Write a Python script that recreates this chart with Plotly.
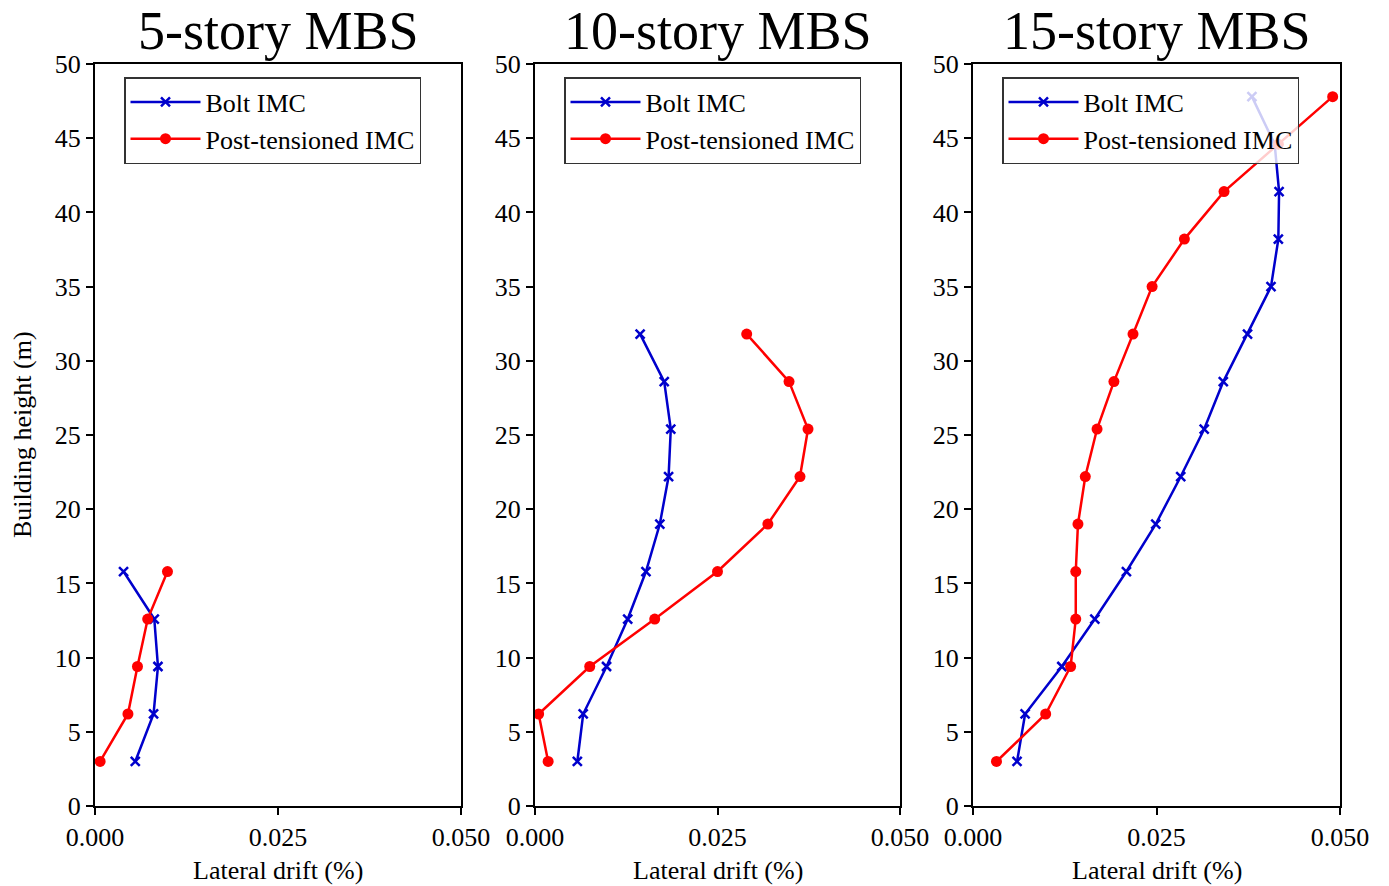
import plotly.graph_objects as go
from plotly.subplots import make_subplots

# Floor heights (m) of each story level
heights = [3.0, 6.2, 9.4, 12.6, 15.8, 19.0, 22.2, 25.4, 28.6, 31.8,
           35.0, 38.2, 41.4, 44.6, 47.8]

titles = ["5-story MBS", "10-story MBS", "15-story MBS"]

# Lateral drift (%) per story
bolt_5 = [0.0055, 0.0080, 0.0086, 0.0081, 0.0039]
pt_5 = [0.0007, 0.0045, 0.0058, 0.0072, 0.0099]

bolt_10 = [0.0058, 0.0066, 0.0098, 0.0127, 0.0152, 0.0171, 0.0183,
           0.0186, 0.0177, 0.0144]
pt_10 = [0.0018, 0.0005, 0.0075, 0.0164, 0.0250, 0.0319, 0.0363,
         0.0374, 0.0348, 0.0290]

bolt_15 = [0.0060, 0.0071, 0.0121, 0.0166, 0.0209, 0.0249, 0.0283,
           0.0315, 0.0341, 0.0374, 0.0406, 0.0416, 0.0417, 0.0411, 0.0380]
pt_15 = [0.0032, 0.0099, 0.0133, 0.0140, 0.0140, 0.0143, 0.0153,
         0.0169, 0.0192, 0.0218, 0.0244, 0.0288, 0.0342, 0.0416, 0.0490]

x_ticks = [0, 0.025, 0.05]
x_tick_text = ["0.000", "0.025", "0.050"]
y_ticks = list(range(0, 51, 5))

series = [(bolt_5, pt_5), (bolt_10, pt_10), (bolt_15, pt_15)]

BLUE = "#0000cc"
RED = "#ff0000"
FONT = "Liberation Serif"

x_domains = [(95 / 1389, 461 / 1389), (535 / 1389, 900 / 1389),
             (973 / 1389, 1340 / 1389)]
y_domain = (1 - 806 / 886, 1 - 64 / 886)

fig = make_subplots(rows=1, cols=3)

legend_names = ["legend", "legend2", "legend3"]
for i, (bolt, pt) in enumerate(series):
    n = len(bolt)
    fig.add_trace(go.Scatter(
        x=bolt, y=heights[:n], mode="lines+markers", name="Bolt IMC",
        line=dict(color=BLUE, width=2.5),
        marker=dict(symbol="x-thin", size=9, line=dict(color=BLUE, width=2.5)),
        legend=legend_names[i], legendgroup=f"b{i}", cliponaxis=False,
    ), row=1, col=i + 1)
    fig.add_trace(go.Scatter(
        x=pt, y=heights[:n], mode="lines+markers", name="Post-tensioned IMC",
        line=dict(color=RED, width=2.5),
        marker=dict(symbol="circle", size=11, color=RED),
        legend=legend_names[i], legendgroup=f"p{i}", cliponaxis=False,
    ), row=1, col=i + 1)

axis_common = dict(
    showgrid=False, zeroline=False, showline=True, linecolor="black",
    linewidth=2, mirror=True, ticks="outside", ticklen=7, tickwidth=1.5,
    tickcolor="black", tickfont=dict(family=FONT, size=26, color="black"),
    automargin=False,
)

for i in range(3):
    xa = "xaxis" if i == 0 else f"xaxis{i + 1}"
    ya = "yaxis" if i == 0 else f"yaxis{i + 1}"
    fig.layout[xa].update(domain=x_domains[i], range=[0, 0.05],
                          tickvals=x_ticks, ticktext=x_tick_text, **axis_common)
    fig.layout[ya].update(domain=y_domain, range=[0, 50], tickvals=y_ticks,
                          **axis_common)
    cx = (x_domains[i][0] + x_domains[i][1]) / 2
    fig.add_annotation(text=titles[i], x=cx, y=1 - 31 / 886, xref="paper",
                       yref="paper", showarrow=False, xanchor="center",
                       yanchor="middle",
                       font=dict(family=FONT, size=54, color="black"))
    fig.add_annotation(text="Lateral drift (%)", x=cx, y=1 - 870 / 886,
                       xref="paper", yref="paper", showarrow=False,
                       xanchor="center", yanchor="middle",
                       font=dict(family=FONT, size=26, color="black"))
    fig.layout[legend_names[i]] = dict(
        x=(x_domains[i][0] + 29 / 1389), y=1 - 77 / 886,
        xanchor="left", yanchor="top", xref="paper", yref="paper",
        bgcolor="rgba(255,255,255,0.8)", bordercolor="#333333",
        borderwidth=1.5, font=dict(family=FONT, size=26, color="black"),
        tracegroupgap=0, itemwidth=70,
    )

fig.add_annotation(text="Building height (m)", x=22 / 1389, y=(y_domain[0] + y_domain[1]) / 2,
                   xref="paper", yref="paper", showarrow=False, textangle=-90,
                   xanchor="center", yanchor="middle",
                   font=dict(family=FONT, size=26, color="black"))

fig.update_layout(
    template="none",
    width=1389, height=886, margin=dict(l=0, r=0, t=0, b=0),
    paper_bgcolor="white", plot_bgcolor="white", showlegend=True,
)

fig.write_html("out.html")
